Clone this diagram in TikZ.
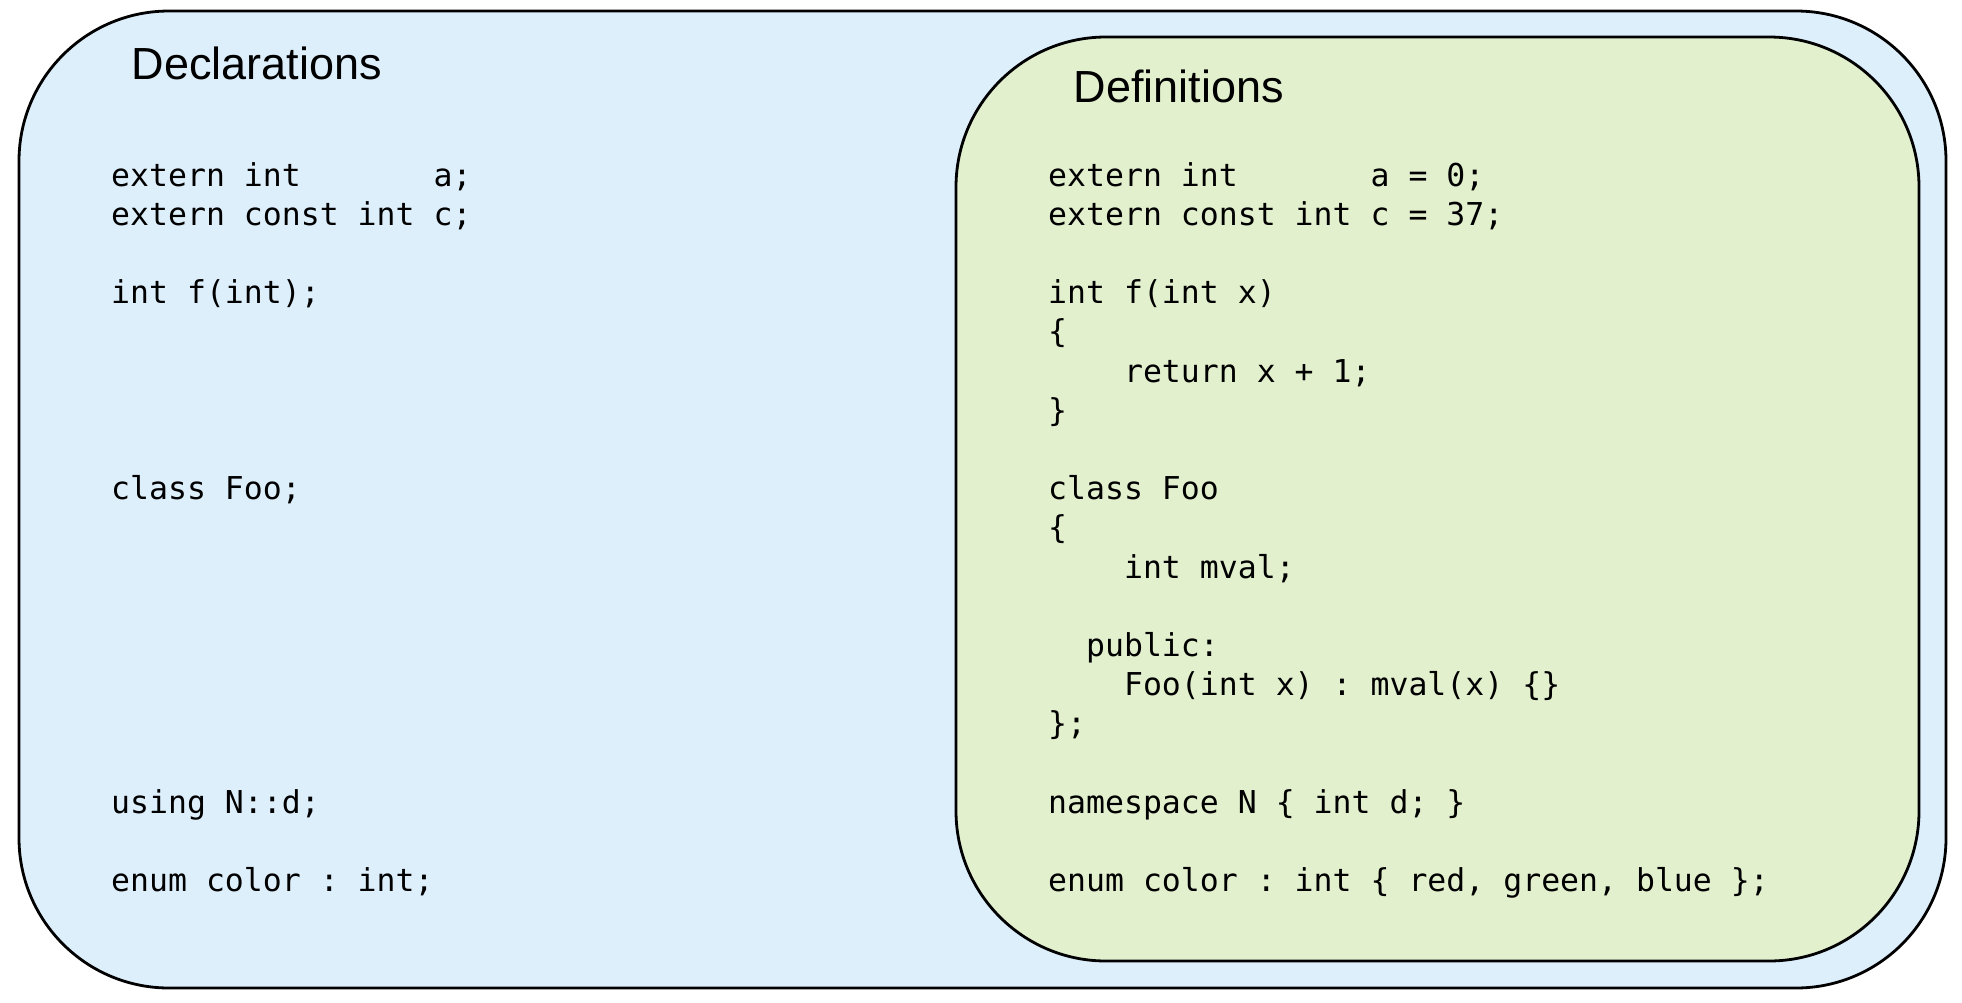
\documentclass[tikz,border=0pt]{standalone}
\usepackage{fontspec}
\setmainfont{Liberation Sans}
\newfontfamily\codefont{DejaVu Sans Mono}
\definecolor{declblue}{HTML}{DEEFFC}
\definecolor{defgreen}{HTML}{E2F0CE}
\begin{document}
\frenchspacing
\begin{tikzpicture}[x=1pt,y=-1pt,
  box/.style={draw=black,line width=2.8pt,rounded corners=150pt,inner sep=0pt,outer sep=0pt,anchor=north west},
  title/.style={anchor=base west,inner sep=0pt,font=\fontsize{45}{54}\selectfont},
  code/.style={anchor=base west,inner sep=0pt,font=\codefont\fontsize{31.5}{39}\selectfont\frenchspacing}]
\useasboundingbox (0,0) rectangle (1962,1002);
\fill[white] (0,0) rectangle (1962,1002);
\node (decl) [box,fill=declblue,minimum width=1927pt,minimum height=977pt] at (19,11) {};
\node (defn) [box,fill=defgreen,minimum width=963pt,minimum height=924pt] at (956,37) {};
\node (tdecl) [title] at (131.5,79) {Declarations};
\node (tdefn) [title] at (1073.5,102) {Definitions};
% declarations
\node (l0) [code] at (111,{186+39.2*0}) {extern int\ \ \ \ \ \ \ a;};
\node (l1) [code] at (111,{186+39.2*1}) {extern const int c;};
\node (l3) [code] at (111,{186+39.2*3}) {int f(int);};
\node (l8) [code] at (111,{186+39.2*8}) {class Foo;};
\node (l16) [code] at (111,{186+39.2*16}) {using N::d;};
\node (l18) [code] at (111,{186+39.2*18}) {enum color : int;};
% definitions
\node (r0) [code] at (1048,{186+39.2*0}) {extern int\ \ \ \ \ \ \ a = 0;};
\node (r1) [code] at (1048,{186+39.2*1}) {extern const int c = 37;};
\node (r3) [code] at (1048,{186+39.2*3}) {int f(int x)};
\node (r4) [code] at (1048,{186+39.2*4}) {\{};
\node (r5) [code] at (1048,{186+39.2*5}) {\ \ \ \ return x + 1;};
\node (r6) [code] at (1048,{186+39.2*6}) {\}};
\node (r8) [code] at (1048,{186+39.2*8}) {class Foo};
\node (r9) [code] at (1048,{186+39.2*9}) {\{};
\node (r10) [code] at (1048,{186+39.2*10}) {\ \ \ \ int mval;};
\node (r12) [code] at (1048,{186+39.2*12}) {\ \ public:};
\node (r13) [code] at (1048,{186+39.2*13}) {\ \ \ \ Foo(int x) : mval(x) \{\}};
\node (r14) [code] at (1048,{186+39.2*14}) {\};};
\node (r16) [code] at (1048,{186+39.2*16}) {namespace N \{ int d; \}};
\node (r18) [code] at (1048,{186+39.2*18}) {enum color : int \{ red, green, blue \};};
\end{tikzpicture}
\end{document}
